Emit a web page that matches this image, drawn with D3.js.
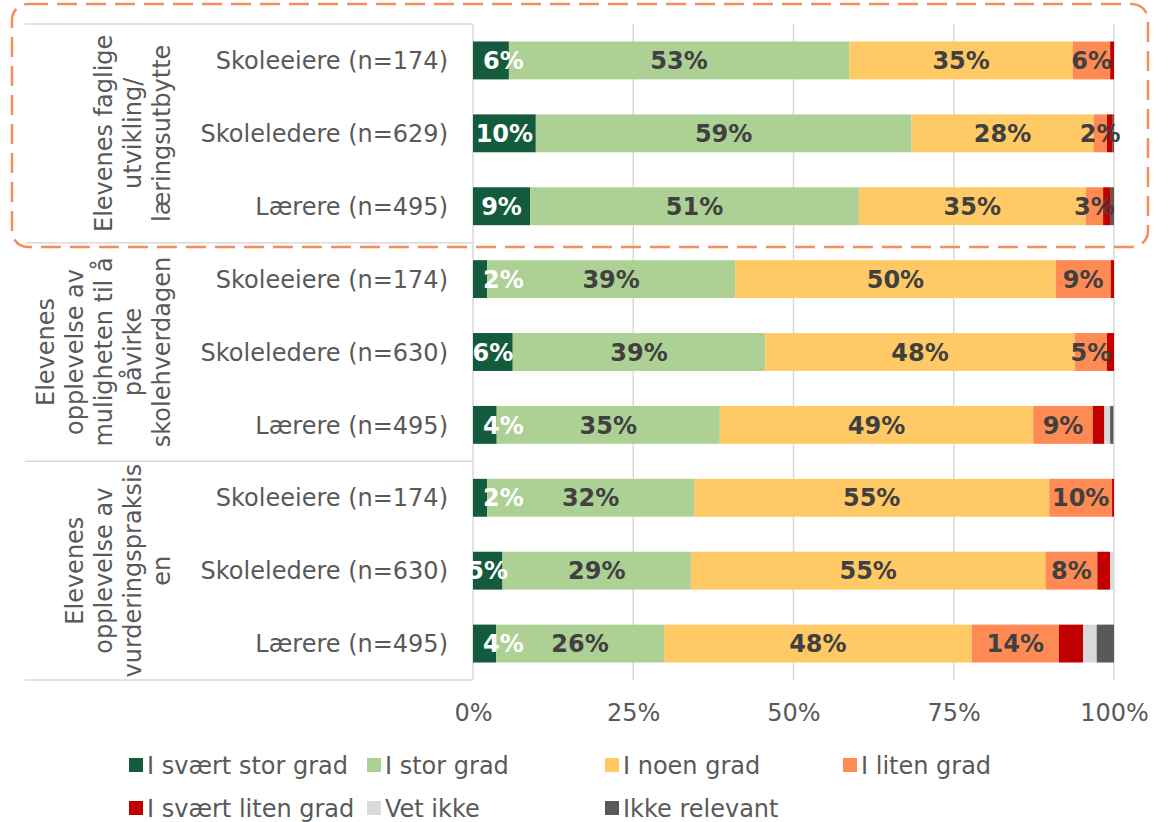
<!DOCTYPE html>
<html>
<head>
<meta charset="utf-8">
<script src="https://cdn.jsdelivr.net/npm/d3@7"></script>
<style>
    body { margin: 0; background: #fff; }
    svg { display: block; font-family: 'DejaVu Sans', Verdana, sans-serif; }
</style>
</head>
<body>
<svg id="bar-svg" width="1176" height="822"></svg>
<script>
// Row labels, top to bottom
const rowLabels = [
    'Skoleeiere (n=174)', 'Skoleledere (n=629)', 'Lærere (n=495)',
    'Skoleeiere (n=174)', 'Skoleledere (n=630)', 'Lærere (n=495)',
    'Skoleeiere (n=174)', 'Skoleledere (n=630)', 'Lærere (n=495)'
];

// Group labels (one entry per group of three rows, already split in lines)
const groupLabels = [
    ['Elevenes faglige', 'utvikling/', 'læringsutbytte'],
    ['Elevenes', 'opplevelse av', 'muligheten til å', 'påvirke', 'skolehverdagen'],
    ['Elevenes', 'opplevelse av', 'vurderingspraksis', 'en']
];

const seriesNames = ['I svært stor grad', 'I stor grad', 'I noen grad', 'I liten grad',
    'I svært liten grad', 'Vet ikke', 'Ikke relevant'];

// Percent values per series, one per row
const sværtStorGrad  = [5.6, 9.8, 8.9, 2.2, 6.2, 3.7, 2.2, 4.6, 3.6];
const storGrad       = [53.1, 58.6, 51.3, 38.7, 39.4, 34.8, 32.3, 29.4, 26.2];
const noenGrad       = [34.9, 28.4, 35.4, 50.0, 48.3, 48.9, 55.4, 55.3, 48.0];
const litenGrad      = [5.8, 2.1, 2.7, 8.6, 5.0, 9.3, 9.8, 8.1, 13.6];
const sværtLitenGrad = [0.6, 0.9, 1.2, 0.5, 1.1, 1.8, 0.3, 2.0, 3.8];
const vetIkke        = [0, 0, 0, 0, 0, 0.9, 0, 0.5, 2.1];
const ikkeRelevant   = [0, 0.2, 0.5, 0, 0, 0.5, 0, 0, 2.7];

const xTicks = [0, 25, 50, 75, 100];

const colors = ['#145A3C', '#ADD194', '#FFCA66', '#FF8A54', '#C00000', '#D9D9D9', '#595959'];

// rows where the first label was pushed inside the plot in the original
const nudgedRows = new Set([0, 3, 5, 6, 8]);

// Build a table the stack can use
const seriesValues = [sværtStorGrad, storGrad, noenGrad, litenGrad, sværtLitenGrad, vetIkke, ikkeRelevant];
const table = rowLabels.map((label, i) => {
    const row = { idx: i, label };
    seriesNames.forEach((s, j) => { row[s] = seriesValues[j][i]; });
    return row;
});

const plot = { left: 473, right: 1114, top: 24, bottom: 680 };
const svg = d3.select('#bar-svg');

const xScale = d3.scaleLinear()
    .domain([0, 100])
    .range([plot.left, plot.right]);

const yScale = d3.scaleBand()
    .domain(d3.range(rowLabels.length))
    .range([plot.top, plot.bottom])
    .paddingInner(0.48)
    .paddingOuter(0.24);

const rowStep = (plot.bottom - plot.top) / rowLabels.length;

// Vertical gridlines
svg.append('g')
    .selectAll('line')
    .data(xTicks.slice(1))
    .join('line')
    .attr('x1', d => xScale(d))
    .attr('x2', d => xScale(d))
    .attr('y1', plot.top)
    .attr('y2', plot.bottom)
    .attr('stroke', '#D9D9D9')
    .attr('stroke-width', 1.5);

// Group separator lines in the label area + category axis line
const groupEdges = d3.range(groupLabels.length + 1).map(i => plot.top + i * rowStep * 3);
svg.append('g')
    .selectAll('line')
    .data(groupEdges)
    .join('line')
    .attr('x1', 25)
    .attr('x2', plot.left)
    .attr('y1', d => d)
    .attr('y2', d => d)
    .attr('stroke', '#D9D9D9')
    .attr('stroke-width', 1.5);

svg.append('line')
    .attr('x1', plot.left)
    .attr('x2', plot.left)
    .attr('y1', plot.top)
    .attr('y2', plot.bottom)
    .attr('stroke', '#D9D9D9')
    .attr('stroke-width', 1.5);

// Stacked bars
const stacked = d3.stack().keys(seriesNames)(table);

svg.append('g')
    .selectAll('g')
    .data(stacked)
    .join('g')
    .attr('fill', (d, i) => colors[i])
    .selectAll('rect')
    .data(d => d)
    .join('rect')
    .attr('x', d => xScale(d[0]))
    .attr('y', d => yScale(d.data.idx))
    .attr('width', d => xScale(d[1]) - xScale(d[0]))
    .attr('height', yScale.bandwidth());

// Percentage labels (first four series only)
svg.append('g')
    .selectAll('g')
    .data(stacked.slice(0, 4))
    .join('g')
    .attr('fill', (d, i) => i === 0 ? '#ffffff' : '#404040')
    .selectAll('text')
    .data(d => d.filter(p => p[1] - p[0] > 0))
    .join('text')
    .attr('x', d => xScale((d[0] + d[1]) / 2))
    .attr('y', d => yScale(d.data.idx) + yScale.bandwidth() / 2)
    .attr('dy', '0.36em')
    .attr('text-anchor', 'middle')
    .style('font-size', '24px')
    .style('font-weight', 'bold')
    .text(d => Math.round(d[1] - d[0]) + '%')
    .each(function (d) {
        // keep some first-segment labels inside the plot area
        if (d[0] === 0 && nudgedRows.has(d.data.idx)) {
            const w = this.getComputedTextLength();
            const cx = Math.max(xScale(d[1] / 2), plot.left + 10 + w / 2);
            d3.select(this).attr('x', cx);
        }
    });

// Row labels
svg.append('g')
    .selectAll('text')
    .data(rowLabels)
    .join('text')
    .attr('x', 448)
    .attr('y', (d, i) => yScale(i) + yScale.bandwidth() / 2)
    .attr('dy', '0.36em')
    .attr('text-anchor', 'end')
    .style('font-size', '24px')
    .style('fill', '#595959')
    .text(d => d);

// Rotated group labels, last line kept at the same x
groupLabels.forEach((lines, g) => {
    const cy = plot.top + (g + 0.5) * rowStep * 3;
    const t = svg.append('text')
        .attr('transform', `translate(0, ${cy}) rotate(-90)`)
        .attr('text-anchor', 'middle')
        .style('font-size', '24px')
        .style('fill', '#595959');
    lines.forEach((line, i) => {
        t.append('tspan')
            .attr('x', 0)
            .attr('y', 161 - (lines.length - 1 - i) * 29)
            .attr('dy', '0.36em')
            .text(line);
    });
});

// X axis tick labels
const xAxis = svg.append('g')
    .attr('transform', `translate(0, ${plot.bottom})`)
    .call(d3.axisBottom(xScale).tickValues(xTicks).tickSize(0).tickPadding(24).tickFormat(d => d + '%'));
xAxis.select('.domain').remove();
xAxis.selectAll('text')
    .style('font-size', '24px')
    .style('font-family', "'DejaVu Sans', Verdana, sans-serif")
    .attr('fill', '#595959');

// Legend: 4 columns, 2 rows
const legend = svg.append('g');
seriesNames.forEach((name, i) => {
    const lx = 129 + (i % 4) * 238;
    const ly = 765 + Math.floor(i / 4) * 43;
    legend.append('rect')
        .attr('x', lx)
        .attr('y', ly - 7)
        .attr('width', 14)
        .attr('height', 14)
        .attr('fill', colors[i]);
    legend.append('text')
        .attr('x', lx + 18)
        .attr('y', ly)
        .attr('dy', '0.36em')
        .style('font-size', '24px')
        .style('fill', '#595959')
        .text(name);
});

// Dashed highlight box around the first group
svg.append('rect')
    .attr('x', 12)
    .attr('y', 4)
    .attr('width', 1136)
    .attr('height', 243)
    .attr('rx', 16)
    .attr('fill', 'none')
    .attr('stroke', '#F68C5C')
    .attr('stroke-width', 2.5)
    .attr('stroke-dasharray', '20 9');
</script>
</body>
</html>
